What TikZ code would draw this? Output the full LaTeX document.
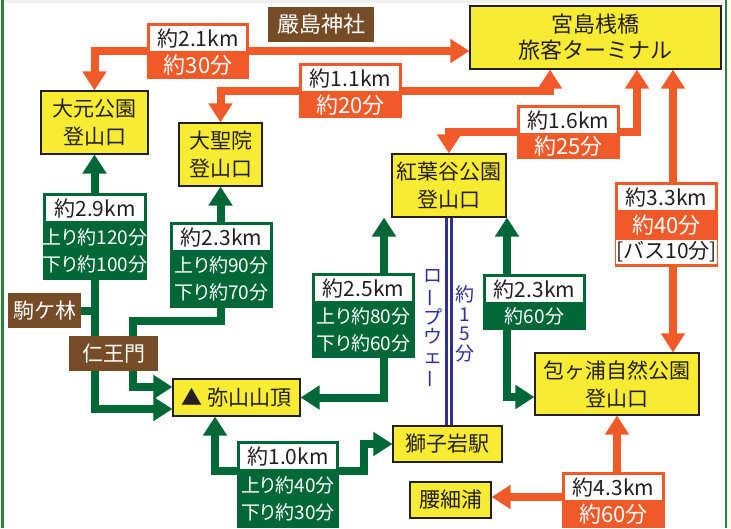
\documentclass[tikz,border=0pt]{standalone}
\usepackage{fontspec}
\setmainfont{Noto Sans CJK JP}
\newfontfamily\pfont[RawFeature=+palt]{Noto Sans CJK JP}
\usepackage{graphicx}
\usetikzlibrary{arrows.meta,calc}
\definecolor{og}{RGB}{240,90,41}
\definecolor{gr}{RGB}{0,104,55}
\definecolor{yl}{RGB}{248,236,50}
\definecolor{br}{RGB}{117,76,38}
\definecolor{rb}{RGB}{46,49,146}
\definecolor{tx}{RGB}{35,31,32}
\pgfdeclarelayer{bg}
\pgfsetlayers{bg,main}
\newcommand\mklbl[7]{%
  \node[lblbox, fill=#2, minimum width=#4, minimum height=#5] (#1) at (#3) {};
  \node[kmbox, minimum width=#4-6, anchor=north] (#1k) at ([yshift=-3pt]#1.north) {#6};
  \node[txt#2] (#1t) at ($(#1k.south)!0.5!(#1.south)$) {#7};
}
\begin{document}
\begin{tikzpicture}[x=1pt,y=-1pt,
  >={Triangle[length=19pt,width=23pt]},
  ybox/.style={draw=tx, line width=1.1pt, fill=yl, text=tx, align=center, inner sep=0pt, font=\fontsize{21}{28}\selectfont},
  bbox/.style={fill=br, text=white, inner sep=0pt, font=\fontsize{21}{25}\selectfont},
  lblbox/.style={inner sep=0pt, draw=none},
  kmbox/.style={fill=white, text=tx, inner sep=0pt, minimum height=25pt, font=\fontsize{21}{24}\selectfont},
  txtgr/.style={text=white, align=center, inner sep=0pt, font=\pfont\fontsize{19}{27}\selectfont},
  txtog/.style={text=white, align=center, inner sep=0pt, font=\fontsize{22}{26}\selectfont},
  oline/.style={draw=og, line width=8pt},
  gline/.style={draw=gr, line width=8pt},
  rope/.style={draw=rb, line width=2.2pt},
  vtext/.style={text=rb, align=center, inner sep=0pt, font=\fontsize{19}{19.5}\selectfont}]
\useasboundingbox (0,0) rectangle (731,528);
\begin{pgfonlayer}{bg}
  \fill[white] (0,0) rectangle (731,528);
  \fill[gray!12] (0,0) rectangle (731,3);
  \fill[yl!30] (0,0) rectangle (1,528);
  \fill[gr!85] (1,0) rectangle (4,528);
  \fill[gr!85] (724.5,0) rectangle (727,528);
  \fill[yl!15] (727,0) rectangle (731,528);
\end{pgfonlayer}
% yellow boxes
\node[ybox, minimum width=107, minimum height=63] (oomoto) at (94.5,122.5) {大元公園\\登山口};
\node[ybox, minimum width=83, minimum height=63] (daisho) at (220.5,154.5) {大聖院\\登山口};
\node[ybox, minimum width=251, minimum height=63, font=\fontsize{22}{26}\selectfont] (terminal) at (595.5,37.5) {宮島桟橋\\旅客ターミナル};
\node[ybox, minimum width=114, minimum height=63] (momiji) at (449,185.5) {紅葉谷公園\\登山口};
\node[ybox, minimum width=164, minimum height=62] (kasumi) at (617,384) {包ヶ浦自然公園\\登山口};
\node[ybox, minimum width=127, minimum height=37] (misen) at (236.5,397.5) {▲ 弥山山頂};
\node[ybox, minimum width=109, minimum height=36] (shishi) at (447.5,444) {獅子岩駅};
\node[ybox, minimum width=81, minimum height=36] (koshi) at (450.5,500) {腰細浦};
% brown boxes
\node[bbox, minimum width=106, minimum height=35, font=\fontsize{22}{26}\selectfont] (itsuku) at (321,24.5) {嚴島神社};
\node[bbox, minimum width=73, minimum height=35] (koma) at (44.5,310.5) {駒ケ林};
\node[bbox, minimum width=89, minimum height=35] (nio) at (113.5,353.5) {仁王門};
% labels
\mklbl{l21}{og}{198,51}{102}{56}{約2.1km}{約30分}
\mklbl{l11}{og}{350.5,90.5}{103}{55}{約1.1km}{約20分}
\mklbl{l16}{og}{568.5,132}{103}{54}{約1.6km}{約25分}
\mklbl{l43}{og}{613.5,500}{103}{56}{約4.3km}{約60分}
\mklbl{l29}{gr}{95,236.5}{104}{87}{約2.9km}{上り約120分\\下り約100分}
\mklbl{l23}{gr}{221.5,265}{103}{86}{約2.3km}{上り約90分\\下り約70分}
\mklbl{l25}{gr}{363.5,315.5}{103}{85}{約2.5km}{上り約80分\\下り約60分}
\mklbl{l23b}{gr}{534.5,302}{103}{56}{約2.3km}{約60分}
\mklbl{l10}{gr}{288,484.5}{102}{87}{約1.0km}{上り約40分\\下り約30分}
\node[lblbox, fill=og, minimum width=103, minimum height=85] (l33) at (666.5,224.5) {};
\node[kmbox, minimum width=97, anchor=north] (l33k) at ([yshift=-3pt]l33.north) {約3.3km};
\node[kmbox, minimum width=97, minimum height=24, anchor=south] (l33b) at ([yshift=3pt]l33.south) {[バス10分]};
\node[txtog] (l33t) at ($(l33k.south)!0.5!(l33b.north)$) {約40分};
% ropeway text
\node[vtext] (rwname) at (433,329) {ロ\\\rotatebox[origin=c]{90}{ー}\\プ\\ウ\\ェ\\\rotatebox[origin=c]{90}{ー}};
\node[vtext] (rwtime) at (465,324) {約\\1\\5\\分};
% connectors
\begin{pgfonlayer}{bg}
  \draw[oline,->] (l21.center) -| (oomoto.north);
  \draw[oline,->] (l21.center) -- (terminal.west |- l21.center);
  \draw[oline,->] (l11.center) -| (daisho.north);
  \draw[oline,->] (l11.center) -| ([xshift=-45.5pt]terminal.south);
  \draw[oline,->] (l16.center) -| (momiji.north);
  \draw[oline,->] (l16.center) -| ([xshift=41.5pt]terminal.south);
  \draw[oline,<->] ([xshift=77.5pt]terminal.south) -- ([xshift=56pt]kasumi.north);
  \coordinate (c43) at (617,497);
  \draw[oline,<->] (koshi.east |- c43) -| (kasumi.south);
  \coordinate (g1) at (94.5,409);
  \draw[gline,<->] (oomoto.south) |- (misen.west |- g1);
  \draw[gline] (koma.east) -- (koma.east -| oomoto.south);
  \coordinate (g2a) at (220.5,321);
  \coordinate (g2b) at (133,387);
  \draw[gline,<->] (daisho.south) -- (g2a) -| (g2b) -- (misen.west |- g2b);
  \draw[gline,<->] ([xshift=-65pt]momiji.south) |- (misen.east);
  \draw[gline,<->] ([xshift=58pt]momiji.south) |- ([yshift=-13pt]kasumi.west);
  \coordinate (g5) at (364,471);
  \draw[gline,<->] ([xshift=-21.5pt]misen.south) |- (g5) |- (shishi.west);
  \draw[rope] ([xshift=-2.5pt]momiji.south) -- ([xshift=-2.5pt]momiji.south |- shishi.north);
  \draw[rope] ([xshift=2.5pt]momiji.south) -- ([xshift=2.5pt]momiji.south |- shishi.north);
\end{pgfonlayer}
\end{tikzpicture}
\end{document}
